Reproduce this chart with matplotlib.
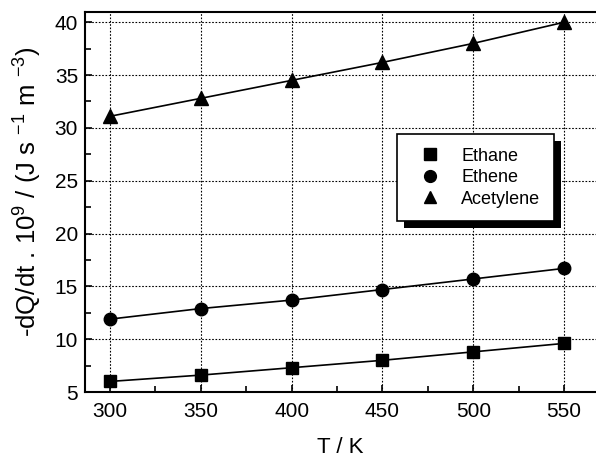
import matplotlib
matplotlib.use("Agg")
import matplotlib.pyplot as plt
from matplotlib.patches import Rectangle
from matplotlib.lines import Line2D
from matplotlib.transforms import IdentityTransform
from matplotlib.ticker import MultipleLocator

plt.rcParams['font.family'] = ['Liberation Sans', 'DejaVu Sans']
plt.rcParams['mathtext.fontset'] = 'custom'
plt.rcParams['mathtext.rm'] = 'Liberation Sans'
plt.rcParams['mathtext.default'] = 'regular'

T = [300, 350, 400, 450, 500, 550]
ethane = [6.0, 6.6, 7.3, 8.0, 8.8, 9.6]
ethene = [11.9, 12.9, 13.7, 14.7, 15.7, 16.7]
acetylene = [31.1, 32.8, 34.5, 36.2, 38.0, 40.0]
names = ['Ethane', 'Ethene', 'Acetylene']
xticks = [300, 350, 400, 450, 500, 550]
yticks = [5, 10, 15, 20, 25, 30, 35, 40]

fig = plt.figure(figsize=(5.96, 4.61), dpi=100)
ax = fig.add_axes([85/596, 1 - 392/461, 1 - 85/596, (392 - 11.7)/461])

series = [(ethane, 's', 8.5), (ethene, 'o', 9), (acetylene, '^', 9.5)]
handles = []
for (vals, mk, ms), nm in zip(series, names):
    ax.plot(T, vals, color='black', lw=1.2, marker=mk, ms=ms)
    handles.append(Line2D([], [], color='black', linestyle='none', marker=mk, ms=ms - 0.5))

ax.set_xlim(286.2, 567.6)
ax.set_ylim(5, 41)
ax.set_xticks(xticks)
ax.set_yticks(yticks)
ax.xaxis.set_minor_locator(MultipleLocator(25))
ax.yaxis.set_minor_locator(MultipleLocator(2.5))
ax.tick_params(which='both', direction='in', width=1.2, labelsize=15)
ax.tick_params(which='major', length=5, pad=7)
ax.tick_params(which='minor', length=4)
ax.tick_params(axis='y', pad=5)
ax.grid(True, which='major', color='black', linestyle=(0, (1.5, 1.5)), linewidth=0.8)
for s in ['left', 'bottom', 'top']:
    ax.spines[s].set_linewidth(1.5)
ax.spines['right'].set_visible(False)

ax.set_xlabel('T / K', fontsize=16, labelpad=12)
ax.set_ylabel(r'-dQ/dt . 10$^{9}$ / (J s $^{-1}$ m $^{-3}$)', fontsize=18.5)
ax.yaxis.set_label_coords(-(85 - 44) / 511, (392 - 192) / 380.3)

leg = ax.legend(handles, names, loc='upper left', bbox_to_anchor=(397/596, 1 - 134/461),
                bbox_transform=fig.transFigure, fontsize=13, frameon=True,
                fancybox=False, edgecolor='black', framealpha=1,
                handlelength=2.2, handletextpad=0.6, borderpad=0.75,
                labelspacing=0.25, borderaxespad=0)
leg.get_frame().set_linewidth(1.2)
leg.set_zorder(6)

fig.canvas.draw()
bb = leg.get_window_extent()
shadow = Rectangle((bb.x0 + 7, bb.y0 - 7), bb.width, bb.height,
                   transform=IdentityTransform(), facecolor='black',
                   edgecolor='none', zorder=5.5)
ax.add_artist(shadow)

fig.savefig('out.png', dpi=100)
